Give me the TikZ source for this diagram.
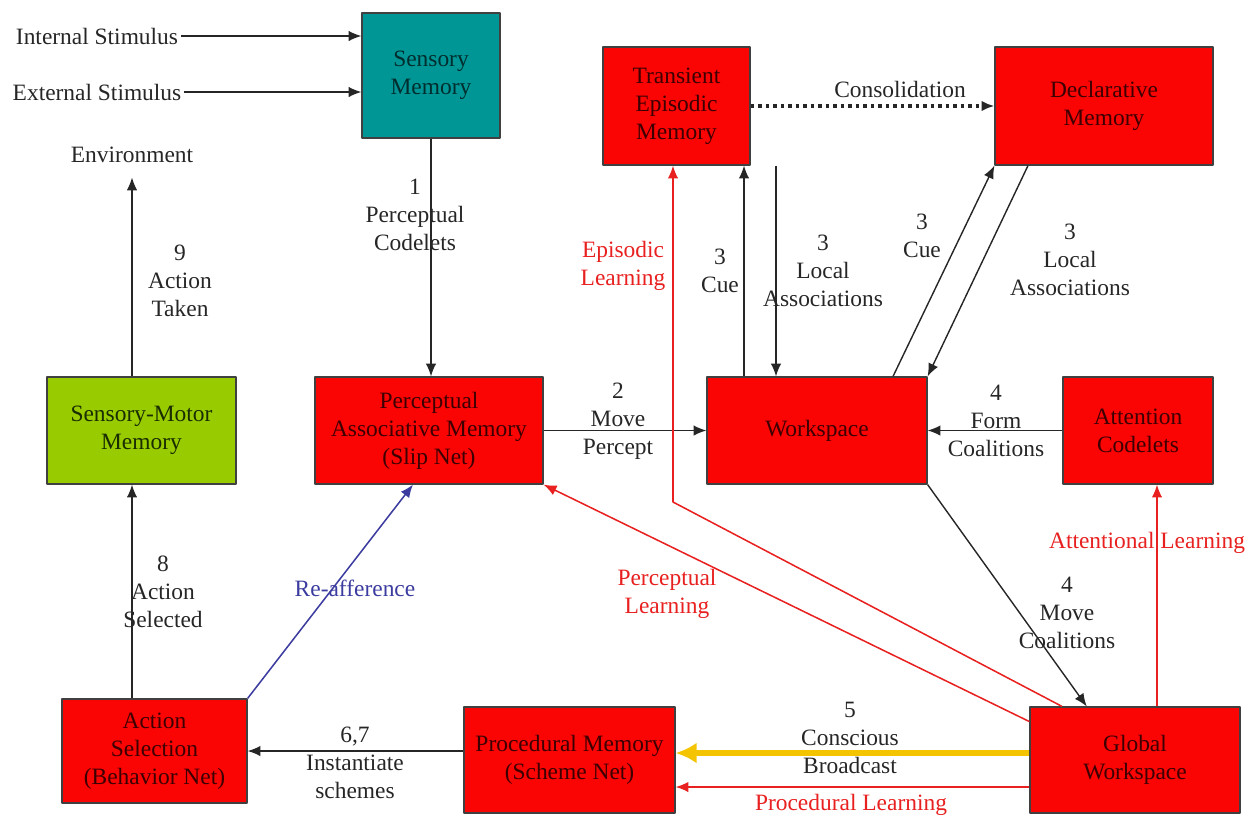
\documentclass[tikz,border=0pt]{standalone}
\usepackage{fontspec}
\setmainfont{Liberation Serif}
\usetikzlibrary{arrows.meta}
\definecolor{memred}{RGB}{250,4,4}
\definecolor{memtext}{RGB}{60,0,0}
\definecolor{sensteal}{RGB}{0,150,150}
\definecolor{senstext}{RGB}{0,45,45}
\definecolor{smgreen}{RGB}{153,204,0}
\definecolor{smtext}{RGB}{25,45,0}
\definecolor{learnred}{RGB}{232,32,32}
\definecolor{reblue}{RGB}{60,60,160}
\definecolor{bcyellow}{RGB}{245,196,0}
\begin{document}
\begin{tikzpicture}[x=0.015cm, y=-0.015cm, font=\fontsize{10}{12}\selectfont, line join=round, >={Latex[length=5.5pt,width=4.5pt]},
	mem/.style={draw=black!75, line width=0.5pt, fill=memred, text=memtext, align=center, inner sep=1pt},
	lbl/.style={align=center, inner sep=1pt, text=black!85},
	flow/.style={->, line width=0.6pt, draw=black!85},
	learn/.style={->, line width=0.65pt, draw=learnred},
	reaff/.style={->, line width=0.65pt, draw=reblue},
	bcast/.style={-{Latex[length=9pt,width=9pt]}, line width=2.2pt, draw=bcyellow}]
	\useasboundingbox (0,0) rectangle (1259,816);
	\path
	(744,0) coordinate (cueT)
	(776,0) coordinate (locT)
	(893,0) coordinate (cueD)
	(1028,0) coordinate (locD)
	(673,502) coordinate (epiB)
	(1062,0) coordinate (epiS)
	(1157,0) coordinate (attX)
	(413,0) coordinate (reX)
	;
	\node[mem, fill=sensteal, text=senstext, minimum width=2.07cm, minimum height=1.875cm] (sensory) at (431,75.5) {Sensory\\Memory};
	\node[mem, minimum width=2.205cm, minimum height=1.77cm] (tem) at (676.5,106) {Transient\\Episodic\\Memory};
	\node[mem, minimum width=3.27cm, minimum height=1.77cm] (decl) at (1104,106) {Declarative\\Memory};
	\node[mem, fill=smgreen, text=smtext, minimum width=2.835cm, minimum height=1.605cm] (smm) at (141.5,430.5) {Sensory-Motor\\Memory};
	\node[mem, minimum width=3.42cm, minimum height=1.605cm] (pam) at (429,430.5) {Perceptual\\Associative Memory\\(Slip Net)};
	\node[mem, minimum width=3.3cm, minimum height=1.605cm] (work) at (817,430.5) {Workspace};
	\node[mem, minimum width=2.25cm, minimum height=1.605cm] (attn) at (1138,430.5) {Attention\\Codelets};
	\node[mem, minimum width=2.775cm, minimum height=1.56cm] (asel) at (154.5,751) {Action\\Selection\\(Behavior Net)};
	\node[mem, minimum width=3.165cm, minimum height=1.59cm] (proc) at (569.5,760) {Procedural Memory\\(Scheme Net)};
	\node[mem, minimum width=3.15cm, minimum height=1.59cm] (gw) at (1135,760) {Global\\Workspace};

	\node[lbl] (intstim) at (97,36) {Internal Stimulus};
	\node[lbl] (extstim) at (97,92) {External Stimulus};
	\node[lbl] (env) at (132,155) {Environment};

	\node[lbl] (l9) at (180,281) {9\\Action\\Taken};
	\node[lbl] (l1) at (415,215) {1\\Perceptual\\Codelets};
	\node[lbl] (l8) at (163,592) {8\\Action\\Selected};
	\node[lbl, text=reblue] (lre) at (355,588) {Re-afference};
	\node[lbl] (l67) at (355,763) {6,7\\Instantiate\\schemes};
	\node[lbl] (l2) at (618,421) {2\\Move\\Percept};
	\node[lbl] (l4f) at (996,421) {4\\Form\\Coalitions};
	\node[lbl] (l4m) at (1067,613) {4\\Move\\Coalitions};
	\node[lbl] (l3c) at (720,271) {3\\Cue};
	\node[lbl] (l3l) at (823,271) {3\\Local\\Associations};
	\node[lbl] (l3cd) at (922,236) {3\\Cue};
	\node[lbl] (l3ld) at (1070,260) {3\\Local\\Associations};
	\node[lbl] (lcons) at (900,89) {Consolidation};
	\node[lbl] (l5) at (850,738) {5\\Conscious\\Broadcast};
	\node[lbl, text=learnred] (lproc) at (851,805) {Procedural Learning};
	\node[lbl, text=learnred] (latt) at (1147,543) {Attentional Learning};
	\node[lbl, text=learnred] (lperc) at (667,594) {Perceptual\\Learning};
	\node[lbl, text=learnred] (lepi) at (623,266) {Episodic\\Learning};

	\draw[flow] (intstim) -- (intstim -| sensory.west);
	\draw[flow] (extstim) -- (extstim -| sensory.west);
	\draw[flow, shorten >=5pt] (smm.north -| env) -- (env);
	\draw[flow] (asel.north -| env) -- (smm.south -| env);
	\draw[flow] (sensory.south) -- (sensory.south |- pam.north);
	\draw[reaff] (asel.north east) -- (pam.south -| reX);
	\draw[flow] (proc.west |- asel.east) -- (asel.east);
	\draw[flow] (pam.east) -- (work.west);
	\draw[flow] (attn.west) -- (work.east);
	\draw[flow] (work.south east) -- (gw.132);
	\draw[flow] (work.north -| cueT) -- (tem.south -| cueT);
	\draw[flow] (tem.south -| locT) -- (work.north -| locT);
	\draw[flow] (work.north -| cueD) -- (decl.south west);
	\draw[flow] (decl.south -| locD) -- (work.north east);
	\draw[flow, line width=1.3pt, dash pattern=on 1.6pt off 1.6pt] (tem.east) -- (decl.west);
	\draw[bcast] ([yshift=0.105cm]gw.west) -- ([yshift=0.105cm]proc.east);
	\draw[learn] ([yshift=-0.405cm]gw.west) -- ([yshift=-0.405cm]proc.east);
	\draw[learn] (gw.north -| attX) -- (attn.south -| attX);
	\draw[learn] (gw.160) -- (pam.south east);
	\draw[learn] (gw.north -| epiS) -- (epiB) -- (tem.south -| epiB);
\end{tikzpicture}
\end{document}
